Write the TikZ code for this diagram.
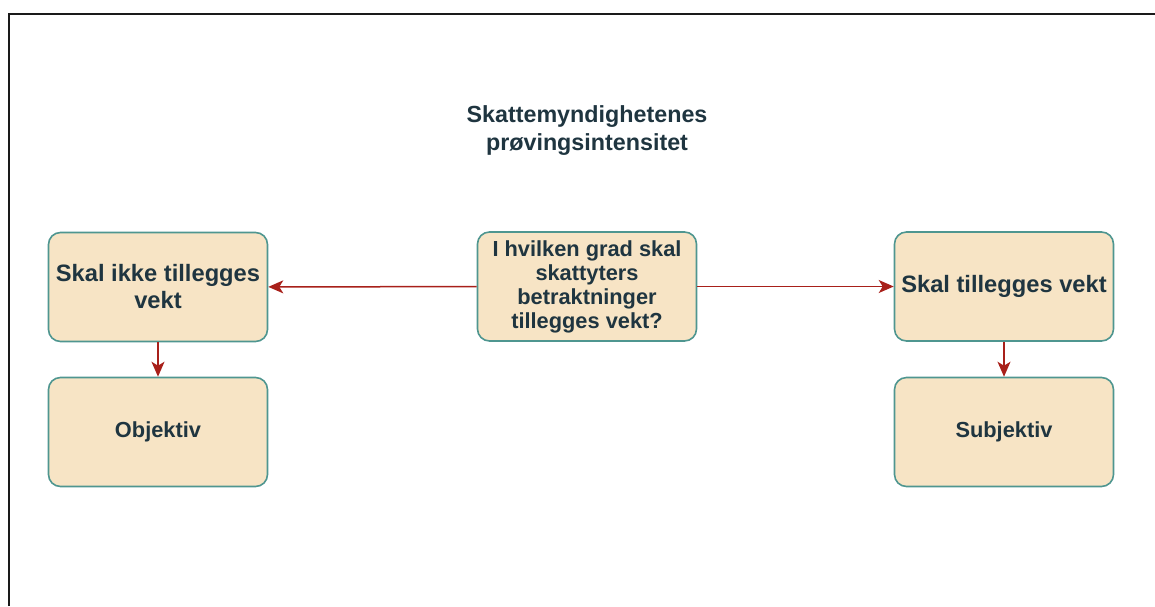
\documentclass[tikz,border=0pt]{standalone}
\usepackage{fontspec}
\setmainfont{Liberation Sans}
\usetikzlibrary{arrows.meta}
\definecolor{boxfill}{HTML}{F7E4C5}
\definecolor{boxline}{HTML}{4F9690}
\definecolor{ink}{HTML}{1F3540}
\definecolor{arrowred}{HTML}{A8201A}
\definecolor{frameline}{HTML}{1A1A1A}
\tikzset{
  px/.style={x=1pt,y=-1pt},
  card/.style={draw=boxline, fill=boxfill, line width=1.6pt, rounded corners=12pt,
    minimum width=219pt, minimum height=109pt, inner sep=2pt, align=center,
    text=ink, font=\bfseries\fontsize{21.8}{24}\selectfont},
  bigcard/.style={card, font=\bfseries\fontsize{23.7}{27}\selectfont},
  link/.style={draw=arrowred, line width=1.5pt, -{Stealth[length=15pt,width=13pt,inset=4pt]}},
  heading/.style={text=ink, align=center, font=\bfseries\fontsize{23.3}{28}\selectfont}
}
\begin{document}
\begin{tikzpicture}[px]
  \useasboundingbox (0,0) rectangle (1155,606);
  % open frame: top and left edges only
  \draw[frameline, line width=2.6pt] (9,606) -- (9,14) -- (1155,14);

  \node[heading] (title) at (587,131) {Skattemyndighetenes\\prøvingsintensitet};

  \node[card] (question) at (587,286.5) {I hvilken grad skal\\skattyters\\betraktninger\\tillegges vekt?};
  \node[bigcard] (no) at (158,287) {Skal ikke tillegges\\vekt};
  \node[bigcard] (yes) at (1004,286.5) {Skal tillegges vekt};
  \node[card] (obj) at (158,432) {Objektiv};
  \node[card] (subj) at (1004,432) {Subjektiv};

  \draw[link] (question) -- (no);
  \draw[link] (question) -- (yes);
  \draw[link] (no) -- (obj);
  \draw[link] (yes) -- (subj);
\end{tikzpicture}
\end{document}
